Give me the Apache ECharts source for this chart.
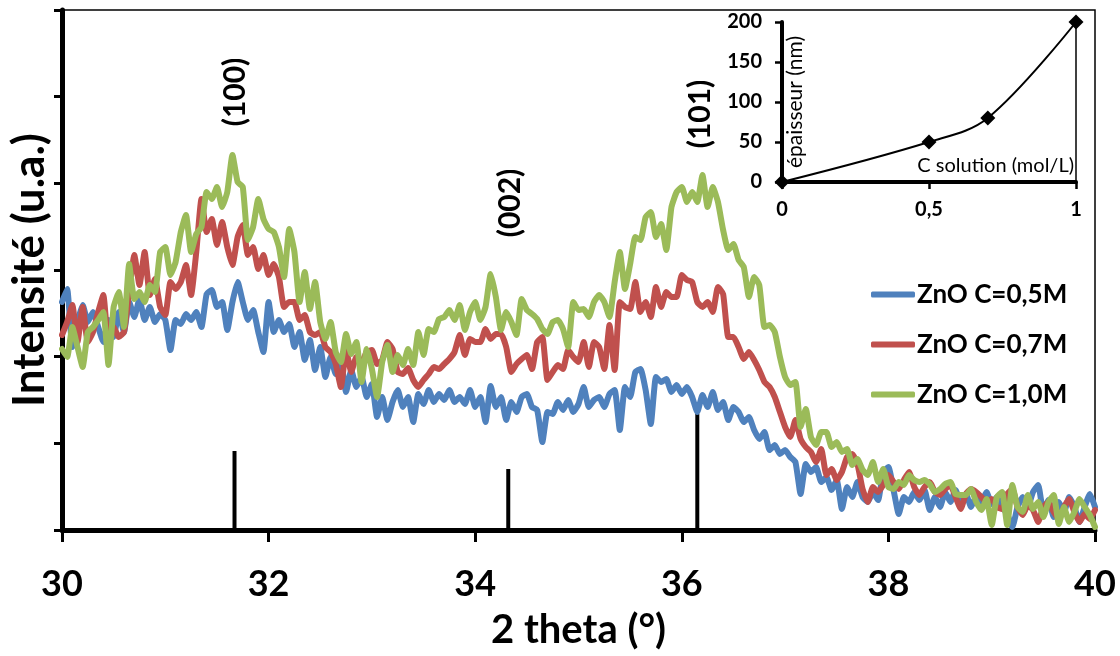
<!DOCTYPE html>
<html><head><meta charset="utf-8">
<script src="https://cdn.jsdelivr.net/npm/echarts@6/dist/echarts.min.js"></script>
<style>html,body{margin:0;padding:0;background:#fff}#c{width:1120px;height:656px}</style>
</head><body><div id="c"></div>
<script>
// sampling grid of the diffractograms (2 theta, degrees)
const X_START = 30, X_STEP = 0.05;
// intensity (arbitrary units)
const blue = [228,241,183,208,225,208,218,203,188,210,
193,218,198,228,213,231,210,223,208,216,
210,180,210,206,216,210,218,203,236,240,
223,228,200,228,248,228,210,220,198,178,
228,198,210,198,206,183,198,170,190,160,
183,153,173,156,168,138,160,143,153,133,
146,113,133,110,128,140,123,133,108,136,
126,140,128,136,130,140,128,133,126,140,
123,133,108,144,123,133,110,128,118,133,
136,123,120,88,118,116,128,120,130,118,
126,143,123,130,133,123,136,140,100,143,
133,158,161,140,106,153,148,151,138,145,
136,143,133,118,135,123,138,120,128,110,
123,118,108,113,100,91,98,80,85,76,
80,73,68,36,66,58,63,48,53,40,
50,21,43,33,48,33,28,38,30,58,
63,40,16,33,28,38,30,40,20,33,
23,38,28,40,28,36,23,33,28,38,
26,33,23,16,3,23,33,23,38,45,
18,30,13,28,18,33,23,8,23,36,
23];
const red = [195,208,225,188,223,188,198,218,235,185,
203,193,198,238,275,245,278,235,251,223,
215,248,241,248,265,235,278,331,298,311,
285,308,283,265,293,305,275,283,261,275,
255,266,253,223,228,228,210,215,198,195,
198,183,178,166,143,180,158,173,168,178,
180,166,170,188,181,158,156,162,150,143,
150,156,163,161,166,171,178,195,175,191,
188,188,201,191,196,196,183,158,166,171,
175,161,188,193,150,158,165,161,180,173,
168,188,163,188,183,161,205,160,228,223,
221,248,218,228,213,243,223,238,233,233,
255,250,248,228,223,228,218,243,236,193,
193,183,171,178,170,160,148,143,133,118,
103,93,110,91,83,78,68,81,55,61,
50,58,73,76,66,41,28,43,38,45,
55,48,41,50,58,43,35,43,48,38,
35,41,45,33,21,36,41,38,33,28,
31,23,21,36,41,23,15,25,20,8,
23,28,18,11,23,31,18,8,16,11,
20];
const green = [181,173,203,183,163,198,203,210,218,165,
223,238,203,266,231,238,228,245,238,278,
283,255,268,298,315,278,296,303,338,331,
343,323,338,375,348,343,290,303,331,311,
301,298,283,253,301,278,228,258,221,248,
208,191,208,178,168,196,176,188,148,181,
161,133,168,185,158,175,165,181,165,198,
175,201,198,211,213,220,210,225,200,218,
228,210,223,256,233,200,218,208,195,231,
220,216,211,201,196,208,210,201,183,228,
220,221,213,228,235,228,213,248,278,241,
266,293,290,313,318,293,306,280,323,338,
343,328,338,328,355,323,343,328,300,280,
286,270,263,233,253,245,203,205,198,173,
153,145,148,103,121,93,85,98,98,83,
88,78,81,65,71,60,55,68,48,61,
43,41,48,45,55,50,48,50,46,38,
41,46,48,36,35,35,41,28,20,31,
5,33,38,5,45,23,18,35,21,28,
13,28,35,6,23,8,18,31,23,15,
3];
const seriesNames = ['ZnO C=0,5M', 'ZnO C=0,7M', 'ZnO C=1,0M'];
const seriesColors = ['#4F81BD', '#C0504D', '#9BBB59'];
// reference (JCPDS) stick positions and heights
const refPos = [31.67, 34.32, 36.15];
const refHeight = [79, 61, 116];
// peak annotations
const peakLabels = ['(100)', '(002)', '(101)'];
const peakLabelX = [31.68, 34.34, 36.18];
const peakLabelY = [438, 327, 416];
// inset: thickness vs concentration
const insetConc = [0, 0.5, 0.7, 1];
const insetThick = [0, 50, 80, 200];

const FONT = 'Lato, "Open Sans", sans-serif';
const toPairs = arr => arr.map((v, i) => [+(X_START + i * X_STEP).toFixed(2), v]);
const chart = echarts.init(document.getElementById('c'), null, {renderer: 'canvas'});
const YMAX = 520;

const lineSeries = [blue, red, green].map((arr, k) => ({
  name: seriesNames[k], type: 'line', xAxisIndex: 0, yAxisIndex: 0,
  data: toPairs(arr), symbol: 'none', smooth: 0.15,
  lineStyle: {color: seriesColors[k], width: 6, join: 'round', cap: 'round'},
  itemStyle: {color: seriesColors[k]}, z: 3 + k, animation: false
}));

chart.setOption({
  animation: false,
  backgroundColor: '#fff',
  textStyle: {fontFamily: FONT},
  grid: [
    {left: 62, right: 25, top: 10, bottom: 126, show: true, borderColor: '#000', borderWidth: 1.5},
    {left: 782, top: 22, width: 294, height: 160, show: false}
  ],
  legend: {
    orient: 'vertical', left: 866, top: 274, itemGap: 19,
    itemWidth: 44, itemHeight: 6, icon: 'roundRect',
    textStyle: {fontFamily: FONT, fontWeight: 'bold', fontSize: 26, color: '#000', lineHeight: 31, padding: [0, 0, 0, -3]},
    data: seriesNames
  },
  xAxis: [
    {type: 'value', gridIndex: 0, min: 30, max: 40, interval: 2,
     name: '2 theta (°)', nameLocation: 'middle', nameGap: 80,
     nameTextStyle: {fontFamily: FONT, fontWeight: 'bold', fontSize: 40, color: '#000'},
     axisLine: {show: true, onZero: false, lineStyle: {color: '#000', width: 5}},
     axisTick: {show: true, length: 12, lineStyle: {color: '#000', width: 3}},
     axisLabel: {fontFamily: FONT, fontWeight: 'bold', fontSize: 36, color: '#000', margin: 36},
     splitLine: {show: false}},
    {type: 'value', gridIndex: 1, min: 0, max: 1, interval: 0.5,
     name: 'C solution (mol/L)', nameLocation: 'end', nameGap: -2,
     nameTextStyle: {fontFamily: FONT, fontSize: 20, color: '#000', align: 'right', verticalAlign: 'bottom', padding: [0, 0, 6, 0]},
     axisLine: {show: true, onZero: false, lineStyle: {color: '#000', width: 4}},
     axisTick: {show: true, length: 7, lineStyle: {color: '#000', width: 2.5}},
     axisLabel: {fontFamily: FONT, fontWeight: 'bold', fontSize: 20, color: '#000', margin: 18,
       formatter: v => String(v).replace('.', ',')},
     splitLine: {show: false}}
  ],
  yAxis: [
    {type: 'value', gridIndex: 0, min: 0, max: YMAX, interval: YMAX / 6,
     name: 'Intensité (u.a.)', nameLocation: 'middle', nameGap: 10,
     nameTextStyle: {fontFamily: FONT, fontWeight: 'bold', fontSize: 44, color: '#000'},
     axisLine: {show: true, onZero: false, lineStyle: {color: '#000', width: 5}},
     axisTick: {show: true, length: 8, lineStyle: {color: '#000', width: 3}},
     axisLabel: {show: false}, splitLine: {show: false}},
    {type: 'value', gridIndex: 1, min: 0, max: 200, interval: 50,
     name: 'épaisseur (nm)', nameLocation: 'middle', nameGap: -24,
     nameTextStyle: {fontFamily: FONT, fontSize: 21, color: '#000'},
     axisLine: {show: true, onZero: false, lineStyle: {color: '#000', width: 4}},
     axisTick: {show: true, length: 7, lineStyle: {color: '#000', width: 2.5}},
     axisLabel: {fontFamily: FONT, fontWeight: 'bold', fontSize: 20, color: '#000', margin: 20},
     splitLine: {show: false}},
    {type: 'value', gridIndex: 1, min: 0, max: 200, position: 'right',
     axisLine: {show: true, onZero: false, lineStyle: {color: '#000', width: 1.5}},
     axisTick: {show: false}, axisLabel: {show: false}, splitLine: {show: false}}
  ],
  series: [
    {type: 'bar', xAxisIndex: 0, yAxisIndex: 0, barWidth: 4,
     data: refPos.map((p, i) => [p, refHeight[i]]),
     itemStyle: {color: '#000'}, z: 2, silent: true},
    ...lineSeries,
    {type: 'line', xAxisIndex: 1, yAxisIndex: 1, smooth: 0.35,
     data: insetConc.map((c, i) => [c, insetThick[i]]),
     symbol: 'diamond', symbolSize: 15,
     lineStyle: {color: '#000', width: 2}, itemStyle: {color: '#000'}, z: 10}
  ]
});

// peak annotations placed through the chart's own coordinate conversion
chart.setOption({
  graphic: peakLabels.map((t, i) => {
    const p = chart.convertToPixel({gridIndex: 0}, [peakLabelX[i], peakLabelY[i]]);
    return {
      type: 'text', x: p[0], y: p[1], rotation: Math.PI / 2, z: 100,
      style: {text: t, fill: '#000', font: 'bold 30px ' + FONT, align: 'center', verticalAlign: 'middle'}
    };
  })
});
</script></body></html>
